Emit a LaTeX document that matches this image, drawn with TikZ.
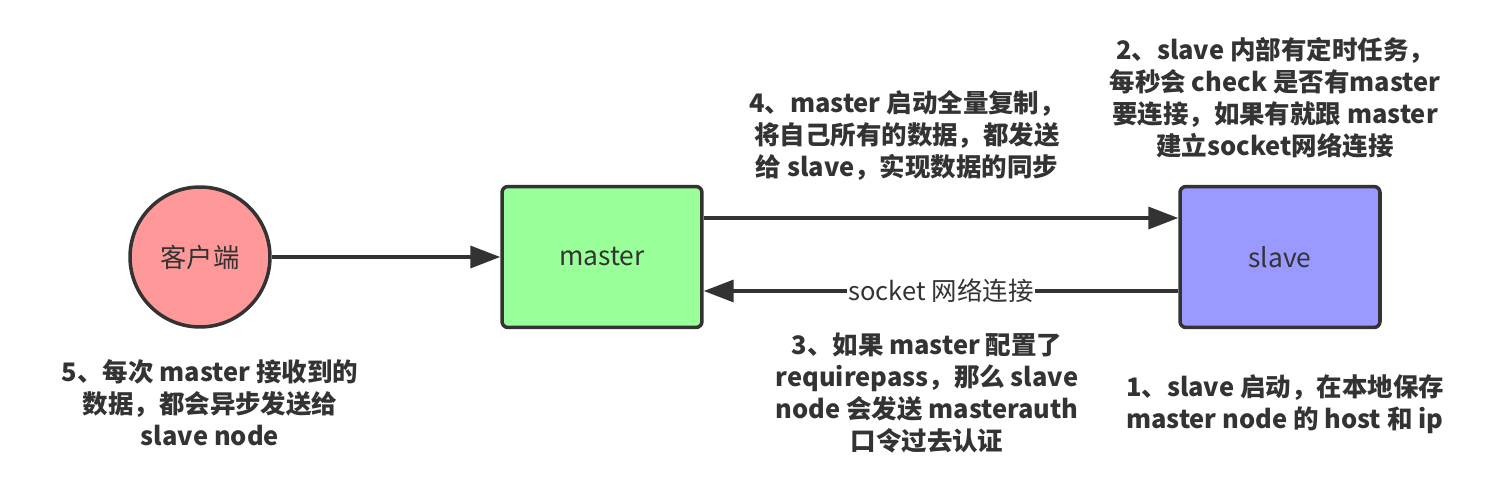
\documentclass[tikz,border=0pt]{standalone}
\usepackage{fontspec}
\setmainfont{Noto Sans CJK SC}
\usetikzlibrary{arrows.meta}
\definecolor{ink}{HTML}{333333}
\definecolor{clientred}{HTML}{FF9999}
\definecolor{mastergreen}{HTML}{99FF99}
\definecolor{slaveblue}{HTML}{9999FF}
\tikzset{
  box/.style={rectangle, draw, rounded corners=0.12cm, minimum width=4cm,
    minimum height=2.82cm, font=\fontsize{15}{17}\selectfont},
  note/.style={align=center, font=\bfseries\fontsize{14.5}{18.2}\selectfont},
  arr/.style={-{Triangle[length=0.6cm,width=0.44cm]}}
}
\begin{document}
\begin{tikzpicture}[x=0.02cm, y=-0.02cm, color=ink, line width=2pt]
    \useasboundingbox (0,0) rectangle (1497,489);
    % the three parts
    \node[circle, draw, fill=clientred, minimum size=2.8cm,
      font=\fontsize{15}{17}\selectfont] (client) at (200,257) {客户端};
    \node[box, fill=mastergreen] (master) at (602,257) {master};
    \node[box, fill=slaveblue] (slave) at (1280,257) {slave};
    % connectors
    \draw[arr] (client) -- (master);
    \draw[arr] ([yshift=0.78cm]master.east) -- ([yshift=0.78cm]slave.west);
    \draw[arr] ([yshift=-0.68cm]slave.west) -- ([yshift=-0.68cm]master.east)
      node[midway, fill=white, inner sep=1pt, font=\fontsize{14.5}{17}\selectfont] (link) {socket 网络连接};
    % notes
    \node[note] (step4) at (907,135) {4、master 启动全量复制，\\将自己所有的数据，都发送\\给 slave，实现数据的同步};
    \node[note] (step2) at (1275,98) {2、slave 内部有定时任务，\\每秒会 check 是否有master\\要连接，如果有就跟 master\\建立socket网络连接};
    \node[note] (step5) at (210,403) {5、每次 master 接收到的\\数据，都会异步发送给\\slave node};
    \node[note] (step3) at (927,393) {3、如果 master 配置了\\requirepass，那么 slave\\node 会发送 masterauth\\口令过去认证};
    \node[note, align=left] (step1) at (1285,404) {1、slave 启动，在本地保存\\master node 的 host 和 ip};
\end{tikzpicture}
\end{document}
